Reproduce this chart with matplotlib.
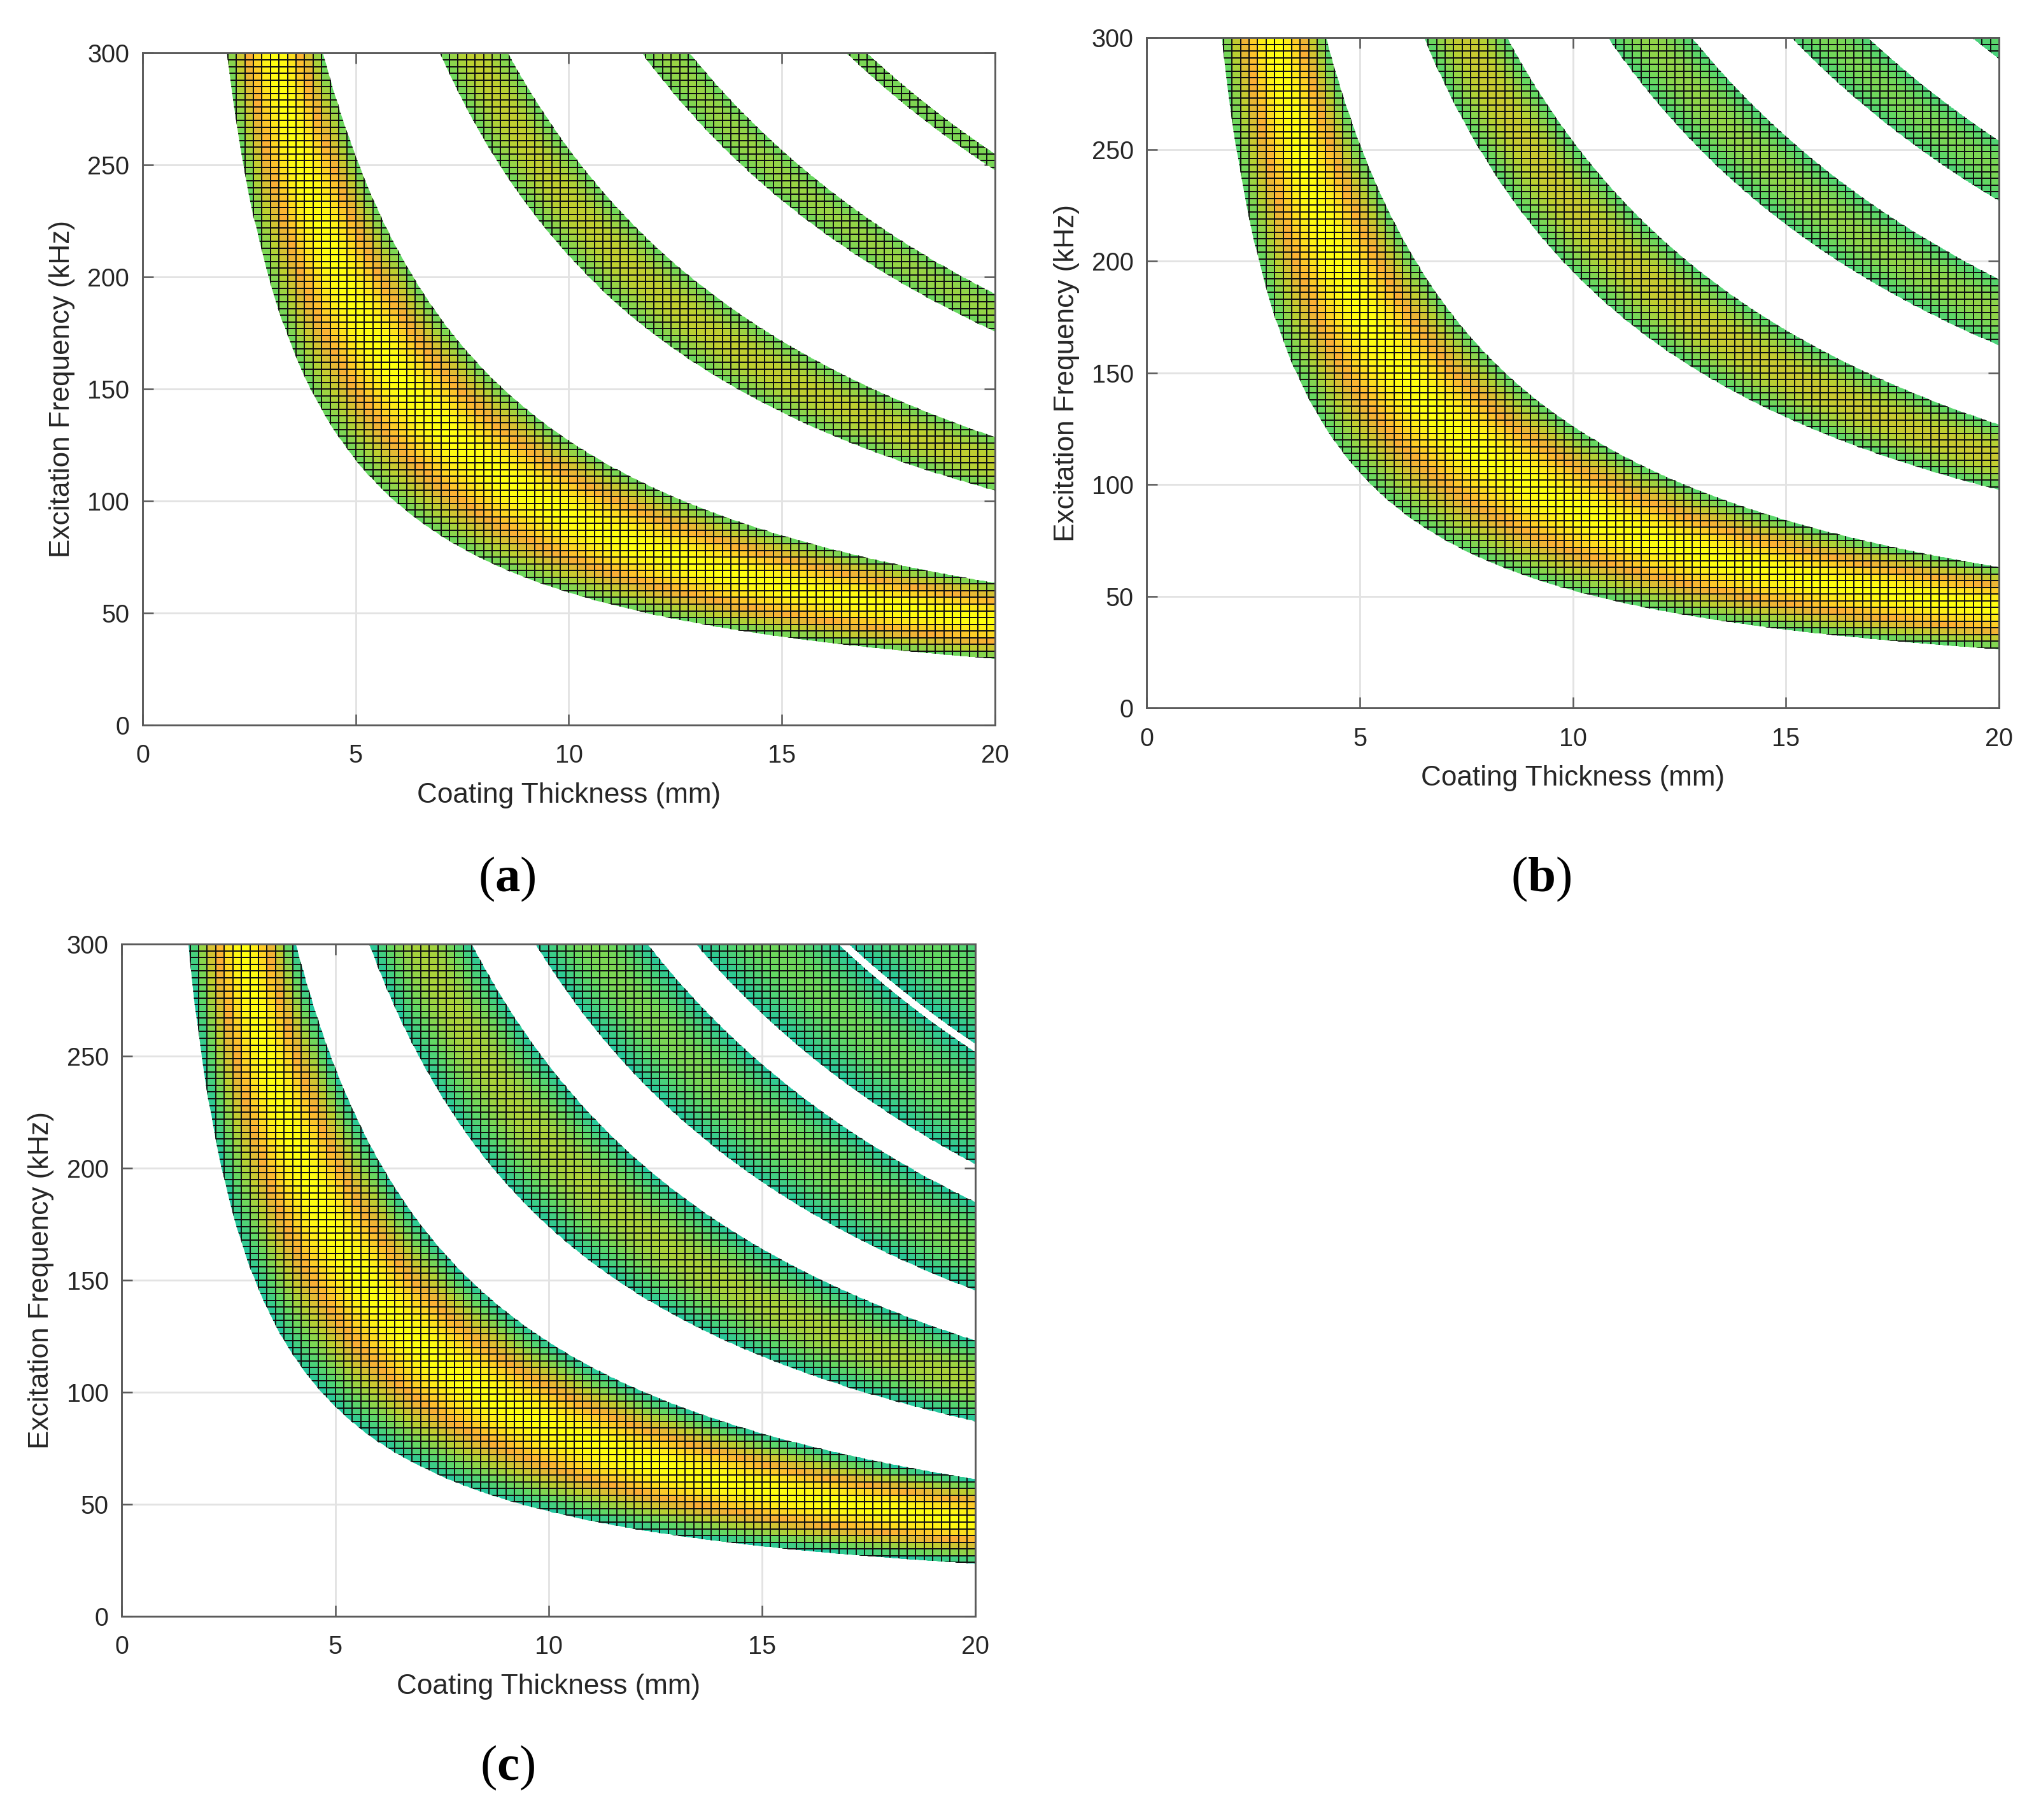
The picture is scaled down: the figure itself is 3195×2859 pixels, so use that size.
import numpy as np
import matplotlib
matplotlib.use("Agg")
import matplotlib.pyplot as plt
from matplotlib.colors import LinearSegmentedColormap
from matplotlib.patches import Polygon

# ---------------- data ----------------
# Bands are regions of constant frequency-thickness product (kHz*mm)
A_BAND_LO = [592, 2095, 3515, 4955]
A_BAND_HI = [1270, 2572, 3850, 5100]
A_EDGE_VAL = [0.25, 0.25, 0.25, 0.27]
A_PEAK_VAL = [1.00, 0.52, 0.40, 0.33]

B_BAND_LO = [527, 1953, 3247, 4540, 5810]
B_BAND_HI = [1262, 2537, 3838, 5077, 6600]
B_EDGE_VAL = [0.20, 0.18, 0.15, 0.15, 0.15]
B_PEAK_VAL = [1.00, 0.55, 0.38, 0.32, 0.28]

C_BAND_LO = [468, 1740, 2908, 4036, 5110]
C_BAND_HI = [1224, 2460, 3696, 5036, 6200]
C_EDGE_VAL = [0.00, 0.00, 0.00, 0.00, 0.00]
C_PEAK_VAL = [1.00, 0.45, 0.32, 0.28, 0.25]

X_TICKS = [0, 5, 10, 15, 20]
Y_TICKS = [0, 50, 100, 150, 200, 250, 300]
X_LABEL = "Coating Thickness (mm)"
Y_LABEL = "Excitation Frequency (kHz)"
PANEL_TAGS = ["a", "b", "c"]

# mesh of the surface (100 x 100 cells)
THICK_GRID = np.linspace(0, 20, 101)
FREQ_GRID = np.linspace(0, 300, 101)

# ---------------- style ----------------
plt.rcParams["font.family"] = ["Liberation Sans", "DejaVu Sans"]
plt.rcParams["mathtext.fontset"] = "custom"
plt.rcParams["mathtext.bf"] = "Liberation Serif:bold"
plt.rcParams["mathtext.rm"] = "Liberation Serif"

cmap = LinearSegmentedColormap.from_list(
    "parula_top",
    [(0.00, "#22c6a0"), (0.25, "#64d862"), (0.50, "#bcd030"),
     (0.75, "#fbae36"), (1.00, "#ffff10")])

TXT = "#262626"

fig = plt.figure(figsize=(3195 / 300, 2859 / 300), dpi=300)

positions = [
    [0.0701, 0.6016, 0.4191, 0.3692],
    [0.5638, 0.6109, 0.4190, 0.3684],
    [0.0599, 0.1120, 0.4197, 0.3692],
]
tag_pos = [(0.2494, 0.5167), (0.7577, 0.5167), (0.2494, 0.0285)]
panels = [
    (A_BAND_LO, A_BAND_HI, A_EDGE_VAL, A_PEAK_VAL),
    (B_BAND_LO, B_BAND_HI, B_EDGE_VAL, B_PEAK_VAL),
    (C_BAND_LO, C_BAND_HI, C_EDGE_VAL, C_PEAK_VAL),
]

D, F = np.meshgrid(THICK_GRID, FREQ_GRID)
Dc, Fc = np.meshgrid(0.5 * (THICK_GRID[1:] + THICK_GRID[:-1]),
                     0.5 * (FREQ_GRID[1:] + FREQ_GRID[:-1]))
XMAX, YMAX = THICK_GRID[-1], FREQ_GRID[-1]


def band_polygon(lo, hi, n=300):
    top = YMAX * 1.02
    right = XMAX * 1.01
    d0 = lo / top
    dl = np.linspace(d0, right, n)
    pts = list(zip(dl, lo / dl))
    if hi / right < top:
        d1 = hi / top
        du = np.linspace(right, d1, n)
        pts += list(zip(du, hi / du))
    else:
        pts += [(right, top)]
    return np.array(pts)


for ax_i, (pos, (los, his, edges, peaks)) in enumerate(zip(positions, panels)):
    ax = fig.add_axes(pos)
    prod = Dc * Fc
    for lo, hi, ev, pv in zip(los, his, edges, peaks):
        t = np.clip((prod - lo) / (hi - lo), 0, 1)
        val = ev + (pv - ev) * np.sin(np.pi * t)
        mesh = ax.pcolormesh(D, F, val, cmap=cmap, vmin=0, vmax=1,
                             shading="flat", edgecolors="#101010",
                             linewidth=0.45, zorder=2)
        poly = Polygon(band_polygon(lo, hi), closed=True,
                       transform=ax.transData)
        mesh.set_clip_path(poly)

    ax.set_xlim(0, XMAX)
    ax.set_ylim(0, YMAX)
    ax.set_xticks(X_TICKS)
    ax.set_yticks(Y_TICKS)
    ax.grid(True, color="#e3e3e3", linewidth=0.7)
    ax.set_axisbelow(True)
    for sp in ax.spines.values():
        sp.set_color("#5a5a5a")
        sp.set_linewidth(0.7)
        sp.set_zorder(5)
    ax.tick_params(direction="in", top=True, right=True, length=4,
                   width=0.6, color="#5a5a5a", labelcolor=TXT,
                   labelsize=9.5)
    ax.tick_params(axis="x", pad=7)
    ax.tick_params(axis="y", pad=5)
    ax.set_xlabel(X_LABEL, fontsize=10.6, color=TXT)
    ax.set_ylabel(Y_LABEL, fontsize=10.6, color=TXT)
    ax.xaxis.set_label_coords(0.5, -0.085)
    ax.yaxis.set_label_coords(-0.079, 0.5)

    tx, ty = tag_pos[ax_i]
    fig.text(tx, ty, r"($\mathbf{%s}$)" % PANEL_TAGS[ax_i],
             family="Liberation Serif", fontsize=19, color="black",
             ha="center", va="center")

fig.savefig("out.png", dpi=300, facecolor="white")
